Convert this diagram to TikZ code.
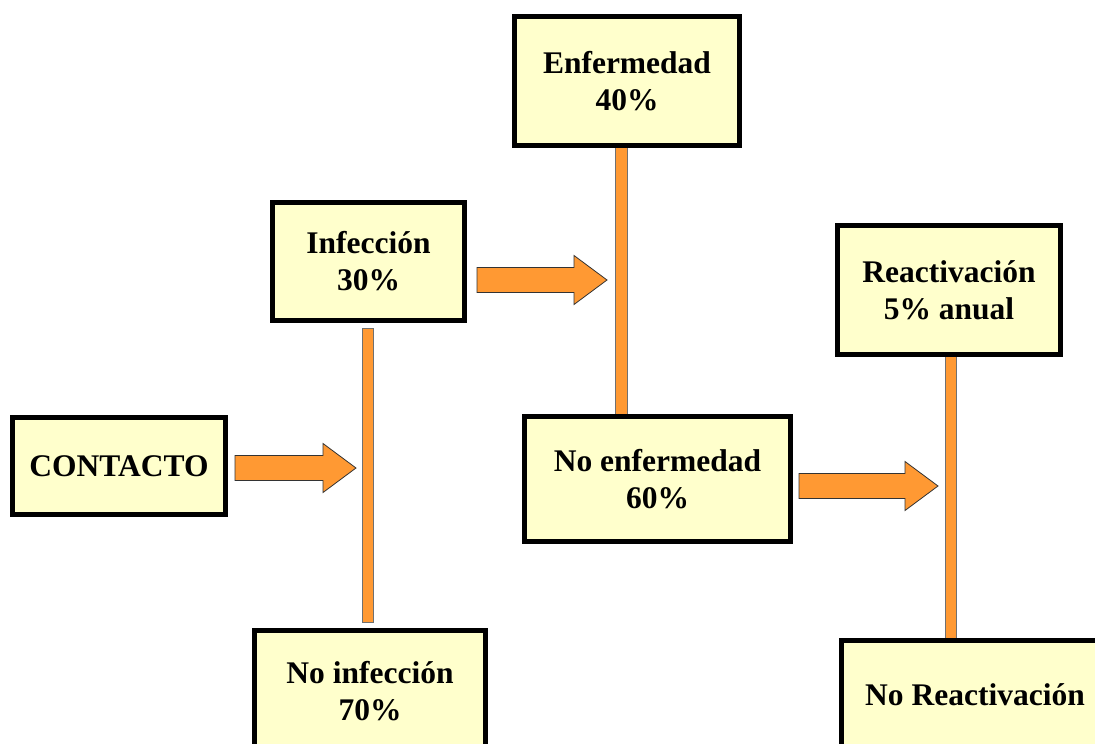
\documentclass[tikz,border=0pt]{standalone}
\usepackage{fontspec}
\setmainfont{Liberation Serif}
\usetikzlibrary{calc}
\definecolor{boxfill}{HTML}{FFFFCC}
\definecolor{flow}{HTML}{FF9933}
\definecolor{edge}{HTML}{333333}
\tikzset{
  stage/.style={draw=black, line width=5pt, fill=boxfill, align=center,
    inner sep=0pt, font=\fontsize{31.5}{37}\selectfont\bfseries},
  bar/.style={draw=edge!70, line width=0.8pt, fill=flow},
  fat/.style={draw=edge, line width=0.8pt, fill=flow, line join=miter}
}
% block arrow from a start point to a tip point
\newcommand\fatarrow[2]{%
  \draw[fat] ($(#1)+(0,-12.5)$) -- ($(#2)+(-33,-12.5)$) -- ($(#2)+(-33,-24.5)$)
    -- (#2) -- ($(#2)+(-33,24.5)$) -- ($(#2)+(-33,12.5)$) -- ($(#1)+(0,12.5)$) -- cycle;}
\begin{document}
\begin{tikzpicture}[x=1pt, y=-1pt]
\useasboundingbox (0,0) rectangle (1095,744);
\clip (0,0) rectangle (1095,744);

% vertical splitting bars
\coordinate (infTop) at (367.5,328);
\coordinate (infBot) at (367.5,622);
\coordinate (enfTop) at (621,146);
\coordinate (enfBot) at (621,416);
\coordinate (reaTop) at (950.5,355);
\coordinate (reaBot) at (950.5,640);
\draw[bar] ($(infTop)+(-5.5,0)$) rectangle ($(infBot)+(5.5,0)$);
\draw[bar] ($(enfTop)+(-6,0)$) rectangle ($(enfBot)+(6,0)$);
\draw[bar] ($(reaTop)+(-5.5,0)$) rectangle ($(reaBot)+(5.5,0)$);

% stages
\node[stage, minimum width=213pt, minimum height=97pt] (contacto) at (119,466) {CONTACTO};
\node[stage, minimum width=192pt, minimum height=118pt] (infeccion) at (368.5,261.5) {Infección\\30\%};
\node[stage, minimum width=231pt, minimum height=122pt] (noinfeccion) at (370,691) {No infección\\70\%};
\node[stage, minimum width=225pt, minimum height=129pt] (enfermedad) at (627,81) {Enfermedad\\40\%};
\node[stage, minimum width=266pt, minimum height=125pt] (noenfermedad) at (657.5,479) {No enfermedad\\60\%};
\node[stage, minimum width=223pt, minimum height=129pt] (reactivacion) at (949,290) {Reactivación\\5\% anual};
\node[stage, minimum width=267pt, minimum height=109pt] (noreactivacion) at (975,695) {No Reactivación};

% flow arrows
\coordinate (a1s) at ($(contacto.east)+(7,2)$);
\coordinate (a1t) at (356,468);
\fatarrow{a1s}{a1t}
\coordinate (a2s) at ($(infeccion.east |- 0,280)+(10,0)$);
\coordinate (a2t) at (607,280);
\fatarrow{a2s}{a2t}
\coordinate (a3s) at ($(noenfermedad.east |- 0,486)+(6,0)$);
\coordinate (a3t) at (938,486);
\fatarrow{a3s}{a3t}
\end{tikzpicture}
\end{document}
